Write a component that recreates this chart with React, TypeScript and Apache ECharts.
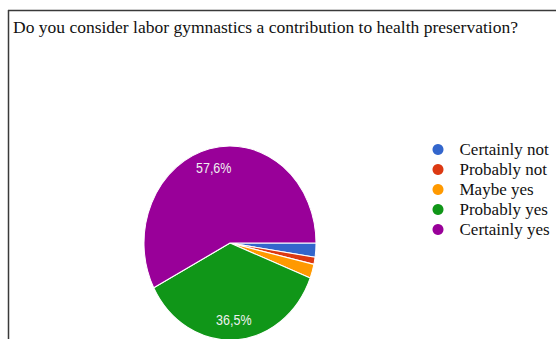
import React, { useEffect, useRef } from "react";
import * as echarts from "echarts";

const titleText = "Do you consider labor gymnastics a contribution to health preservation?";
const categories = ["Certainly not", "Probably not", "Maybe yes", "Probably yes", "Certainly yes"];
const counts = [2, 1, 2, 31, 49];
const colors = ["#3366cc", "#dc3912", "#ff9900", "#109618", "#990099"];

const pieData = categories.map((name, i) => ({ name, value: counts[i], itemStyle: { color: colors[i] } }));

export default function App() {
  const mainRef = useRef<HTMLDivElement>(null);
  const pieRef = useRef<HTMLDivElement>(null);

  useEffect(() => {
    document.body.style.margin = "0";
    const main = echarts.init(mainRef.current!, null, { renderer: "svg" });
    const pie = echarts.init(pieRef.current!, null, { renderer: "svg" });

    main.setOption({
      animation: false,
      backgroundColor: "#ffffff",
      title: {
        text: titleText,
        left: 13,
        top: 18,
        padding: 0,
        textStyle: { fontFamily: "Liberation Serif", fontSize: 17.5, fontWeight: "normal", color: "#111111" },
      },
      legend: {
        orient: "vertical",
        left: 432.5,
        top: 141,
        padding: 0,
        itemGap: 3,
        itemWidth: 33,
        itemHeight: 11,
        icon: "circle",
        data: categories,
        textStyle: { fontFamily: "Liberation Serif", fontSize: 17, color: "#111111", padding: 0 },
      },
      graphic: [
        { type: "line", shape: { x1: 8, y1: 10.5, x2: 556, y2: 10.5 }, style: { stroke: "#3a3a3a", lineWidth: 1.5 } },
        { type: "line", shape: { x1: 8.5, y1: 10, x2: 8.5, y2: 339 }, style: { stroke: "#3a3a3a", lineWidth: 1.5 } },
      ],
      series: [
        {
          type: "pie",
          center: [-1000, -1000],
          radius: 5,
          silent: true,
          label: { show: false },
          data: pieData,
        },
      ],
    });

    const fmt = (p: any) => (p.percent > 5 ? `${p.percent.toFixed(1).replace(".", ",")}%` : "");

    pie.setOption({
      animation: false,
      series: [
        {
          type: "pie",
          center: [100, 100],
          radius: [0, 86],
          startAngle: 0,
          clockwise: true,
          silent: true,
          label: { show: false },
          labelLine: { show: false },
          itemStyle: { borderColor: "#ffffff", borderWidth: 1 },
          data: pieData,
        },
        {
          type: "pie",
          center: [100, 100],
          radius: [45, 86],
          startAngle: 0,
          clockwise: true,
          silent: true,
          itemStyle: { color: "transparent", borderWidth: 0 },
          labelLine: { show: false },
          label: {
            show: true,
            position: "inside",
            formatter: fmt,
            fontFamily: "Arial, Liberation Sans",
            fontSize: 12.5,
            color: "#f0f0f0",
          },
          data: categories.map((name, i) => ({ name, value: counts[i] })),
        },
      ],
    });

    return () => {
      main.dispose();
      pie.dispose();
    };
  }, []);

  return (
    <div style={{ position: "relative", width: 556, height: 339, overflow: "hidden", background: "#fff" }}>
      <div ref={mainRef} style={{ position: "absolute", left: 0, top: 0, width: 556, height: 339 }} />
      <div
        ref={pieRef}
        style={{
          position: "absolute",
          left: 130,
          top: 143,
          width: 200,
          height: 200,
          transform: "scaleY(1.128)",
          transformOrigin: "100px 100px",
        }}
      />
    </div>
  );
}
